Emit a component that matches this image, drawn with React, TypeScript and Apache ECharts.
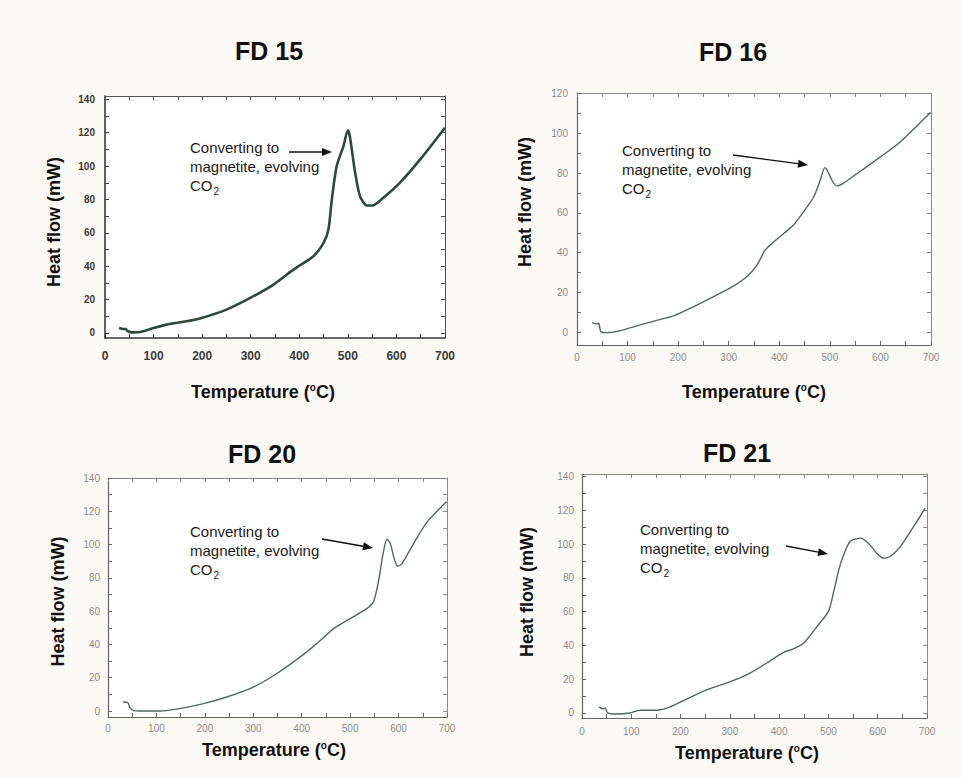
import React, { useEffect, useRef } from "react";
import * as echarts from "echarts";

// ---------- data ----------
const fd15Temp = [29, 38, 43, 46, 55, 72, 100, 127, 168, 199, 250, 299, 347, 388, 429, 450, 460, 467, 477, 491, 500, 504, 515, 525, 539, 553, 573, 607, 649, 700];
const fd15Flow = [3, 2.4, 2.4, 1.2, 0.4, 0.6, 3, 5, 7, 9, 14, 21, 29, 38, 46, 54, 62, 80, 100, 112, 121.5, 118, 96, 82, 76.4, 76.6, 81, 90, 104, 123];

const fd16Temp = [30, 39, 43, 47, 59, 86, 125, 165, 191, 231, 270, 310, 336, 356, 372, 389, 409, 428, 448, 468, 481, 490, 494, 504, 513, 524, 554, 600, 639, 699];
const fd16Flow = [4.9, 4.2, 4.5, 0.3, -0.2, 0.8, 3.7, 6.5, 8.2, 12.9, 17.9, 23.3, 28, 33.8, 41.3, 45.5, 49.7, 53.9, 60.6, 68, 76.5, 82.8, 81.8, 76.5, 73.6, 74.5, 79.8, 88.2, 95.7, 110.5];

const fd20Temp = [31, 41, 45, 52, 66, 107, 148, 197, 245, 300, 348, 397, 431, 466, 500, 534, 548, 559, 568, 576, 583, 590, 598, 607, 631, 659, 699];
const fd20Flow = [5.4, 5, 2, 0.4, 0, 0, 1.4, 4.4, 8.4, 14.4, 22.4, 32.5, 40.5, 49.5, 55.5, 61.5, 65.5, 78.6, 94.6, 103.2, 100.6, 92.6, 87, 88.6, 100.6, 113.6, 125.7];

const fd21Temp = [34, 44, 47, 52, 64, 98, 118, 152, 179, 213, 254, 294, 335, 375, 409, 429, 450, 477, 500, 510, 521, 531, 544, 565, 581, 598, 612, 625, 646, 673, 696];
const fd21Flow = [3.5, 2.4, 3, 0, -0.6, 0, 1.6, 1.6, 3.6, 8.3, 13.8, 17.8, 22.7, 29.6, 35.9, 37.9, 41.4, 51.3, 60.2, 71, 84.8, 93.7, 101.6, 103.6, 100.6, 94.7, 91.7, 92.7, 98.6, 110.5, 121.3];

const panelTitles = ["FD 15", "FD 16", "FD 20", "FD 21"];
const xTicks = [0, 100, 200, 300, 400, 500, 600, 700];
const yTicks140 = [0, 20, 40, 60, 80, 100, 120, 140];
const yTicks120 = [0, 20, 40, 60, 80, 100, 120];
const yMinor140 = [0, 10, 20, 30, 40, 50, 60, 70, 80, 90, 100, 110, 120, 130, 140];
const yMinor120 = [0, 10, 20, 30, 40, 50, 60, 70, 80, 90, 100, 110, 120];
const annotationText = "Converting to\nmagnetite, evolving\nCO{s|2}";
const xName = "Temperature ({s|o}C)";
const yName = "Heat flow (mW)";

const FONT = "'Liberation Sans', Arial, Helvetica, sans-serif";

type Panel = {
  title: string;
  temp: number[];
  flow: number[];
  grid: { left: number; top: number; width: number; height: number };
  yMin: number;
  yMax: number;
  yLabels: number[];
  yMinor: number[];
  heavy: boolean;
  titlePos: [number, number];
  xNameGap: number;
  xNamePad: number[];
  yNameGap: number;
  yNamePad: number[];
  xLabelMargin: number;
  yLabelMargin: number;
  textPos: [number, number];
  arrow: [number, number, number, number];
};

const panels: Panel[] = [
  {
    title: panelTitles[0], temp: fd15Temp, flow: fd15Flow,
    grid: { left: 105, top: 96, width: 340, height: 242 },
    yMin: -3, yMax: 142, yLabels: yTicks140, yMinor: yMinor140, heavy: true,
    titlePos: [269, 51], xNameGap: 44, xNamePad: [0, 24, 0, 0], yNameGap: 41, yNamePad: [0, 10, 0, 0],
    xLabelMargin: 12, yLabelMargin: 10, textPos: [190, 147], arrow: [289, 152, 332, 152],
  },
  {
    title: panelTitles[1], temp: fd16Temp, flow: fd16Flow,
    grid: { left: 577, top: 93, width: 354, height: 252 },
    yMin: -6.4, yMax: 120.3, yLabels: yTicks120, yMinor: yMinor120, heavy: false,
    titlePos: [733, 52], xNameGap: 37, xNamePad: [0, 0, 0, 0], yNameGap: 42, yNamePad: [0, 0, 0, 34],
    xLabelMargin: 7, yLabelMargin: 9, textPos: [622, 150], arrow: [733, 155, 808, 165],
  },
  {
    title: panelTitles[2], temp: fd20Temp, flow: fd20Flow,
    grid: { left: 108, top: 478, width: 339, height: 239 },
    yMin: -3.6, yMax: 140, yLabels: yTicks140, yMinor: yMinor140, heavy: false,
    titlePos: [262, 454], xNameGap: 23, xNamePad: [0, 7, 0, 0], yNameGap: 40, yNamePad: [0, 8, 0, 0],
    xLabelMargin: 6, yLabelMargin: 8, textPos: [190, 531], arrow: [322, 539, 373, 548],
  },
  {
    title: panelTitles[3], temp: fd21Temp, flow: fd21Flow,
    grid: { left: 582, top: 474, width: 345, height: 244 },
    yMin: -3, yMax: 141.6, yLabels: yTicks140, yMinor: yMinor140, heavy: false,
    titlePos: [737, 453], xNameGap: 25, xNamePad: [0, 15, 0, 0], yNameGap: 45, yNamePad: [0, 0, 0, 8],
    xLabelMargin: 8, yLabelMargin: 8, textPos: [640, 529], arrow: [786, 546, 828, 554],
  },
];

function arrowShapes(x1: number, y1: number, x2: number, y2: number) {
  const a = Math.atan2(y2 - y1, x2 - x1);
  const L = 10, W = 4;
  const c = Math.cos(a), s = Math.sin(a);
  const bx = x2 - L * c, by = y2 - L * s;
  const px = -s * W, py = c * W;
  return [
    { type: "line", shape: { x1, y1, x2: bx, y2: by }, style: { stroke: "#111", lineWidth: 1.4 } },
    { type: "polygon", shape: { points: [[x2, y2], [bx + px, by + py], [bx - px, by - py]] }, style: { fill: "#111" } },
  ];
}

function buildOption() {
  const grid: any[] = [];
  const xAxis: any[] = [];
  const yAxis: any[] = [];
  const series: any[] = [];
  const title: any[] = [];
  const graphic: any[] = [];

  panels.forEach((p, i) => {
    const axisColor = p.heavy ? "#3a3a3a" : "#666";
    const frameColor = p.heavy ? "#555" : "#888";
    const labelStyle = p.heavy
      ? { color: "#3a3a3a", fontWeight: "bold" as const, fontFamily: FONT }
      : { color: "#8c8c8c", fontSize: 10, fontFamily: FONT };

    grid.push({ ...p.grid, show: true, backgroundColor: "#ffffff", borderWidth: 0, containLabel: false });

    title.push({
      text: p.title, left: p.titlePos[0], top: p.titlePos[1], padding: 0,
      textAlign: "center", textVerticalAlign: "middle",
      textStyle: { fontSize: 25, fontWeight: "bold", color: "#111", fontFamily: FONT },
    });

    // bottom x axis
    xAxis.push({
      type: "value", gridIndex: i, position: "bottom", min: 0, max: 700, interval: 100,
      axisLine: { show: true, onZero: false, lineStyle: { color: axisColor, width: p.heavy ? 1.6 : 1.2 } },
      axisTick: { show: true, inside: true, length: 4, lineStyle: { color: axisColor } },
      minorTick: { show: true, splitNumber: 2, length: 4, lineStyle: { color: axisColor } },
      splitLine: { show: false },
      axisLabel: { margin: p.xLabelMargin, fontSize: p.heavy ? 12 : 10, ...labelStyle, customValues: xTicks },
      name: xName, nameLocation: "middle", nameGap: p.xNameGap,
      nameTextStyle: {
        fontSize: 18, fontWeight: "bold", color: "#111", fontFamily: FONT, lineHeight: 20, padding: p.xNamePad,
        rich: { s: { fontSize: 10, fontWeight: "bold", color: "#111", fontFamily: FONT, verticalAlign: "top", lineHeight: 20, padding: [0, 0, 6, 0] } },
      },
    });
    // top frame x axis
    xAxis.push({
      type: "value", gridIndex: i, position: "top", min: 0, max: 700, interval: 100,
      axisLine: { show: true, onZero: false, lineStyle: { color: frameColor, width: 1 } },
      axisTick: { show: true, inside: true, length: 4, lineStyle: { color: frameColor } },
      minorTick: { show: true, splitNumber: 2, length: 4, lineStyle: { color: frameColor } },
      splitLine: { show: false },
      axisLabel: { show: false },
    });
    // left y axis
    yAxis.push({
      type: "value", gridIndex: i, position: "left", min: p.yMin, max: p.yMax,
      axisLine: { show: true, onZero: false, lineStyle: { color: axisColor, width: p.heavy ? 1.6 : 1.2 } },
      axisTick: { show: true, inside: true, length: 4, customValues: p.yMinor, lineStyle: { color: axisColor } },
      splitLine: { show: false },
      axisLabel: { margin: p.yLabelMargin, fontSize: 10, ...labelStyle, customValues: p.yLabels },
      name: yName, nameLocation: "middle", nameGap: p.yNameGap, nameRotate: 90,
      nameTextStyle: { fontSize: 18, fontWeight: "bold", color: "#111", fontFamily: FONT, lineHeight: 20, padding: p.yNamePad },
    });
    // right frame y axis
    yAxis.push({
      type: "value", gridIndex: i, position: "right", min: p.yMin, max: p.yMax,
      axisLine: { show: true, onZero: false, lineStyle: { color: frameColor, width: 1 } },
      axisTick: { show: true, inside: true, length: 4, customValues: p.yMinor, lineStyle: { color: frameColor } },
      splitLine: { show: false },
      axisLabel: { show: false },
    });

    series.push({
      type: "line", name: p.title, xAxisIndex: 2 * i, yAxisIndex: 2 * i,
      data: p.temp.map((t, k) => [t, p.flow[k]]),
      showSymbol: false, smooth: 0.25,
      lineStyle: { color: p.heavy ? "#2c4a3c" : "#4e6a5c", width: p.heavy ? 2.6 : 1.4 },
    });

    graphic.push({
      type: "text", x: p.textPos[0], y: p.textPos[1] - 9.5,
      style: {
        text: annotationText, fill: "#1a1a1a", fontSize: 15, fontFamily: FONT, lineHeight: 19,
        align: "left", verticalAlign: "top",
        rich: { s: { fontSize: 10, fill: "#1a1a1a", fontFamily: FONT, lineHeight: 19, verticalAlign: "top", padding: [11, 0, 0, 1] } },
      },
    });
    graphic.push(...arrowShapes(p.arrow[0], p.arrow[1], p.arrow[2], p.arrow[3]));
  });

  return {
    animation: false,
    backgroundColor: "#fbf9f6",
    title, grid, xAxis, yAxis, series, graphic,
  };
}

export default function App() {
  const ref = useRef<HTMLDivElement>(null);
  useEffect(() => {
    if (!ref.current) return;
    const chart = echarts.init(ref.current, undefined, { renderer: "svg" });
    chart.setOption(buildOption() as any);
    return () => chart.dispose();
  }, []);
  return (
    <div
      ref={ref}
      style={{ position: "fixed", left: 0, top: 0, width: 962, height: 778 }}
    />
  );
}
